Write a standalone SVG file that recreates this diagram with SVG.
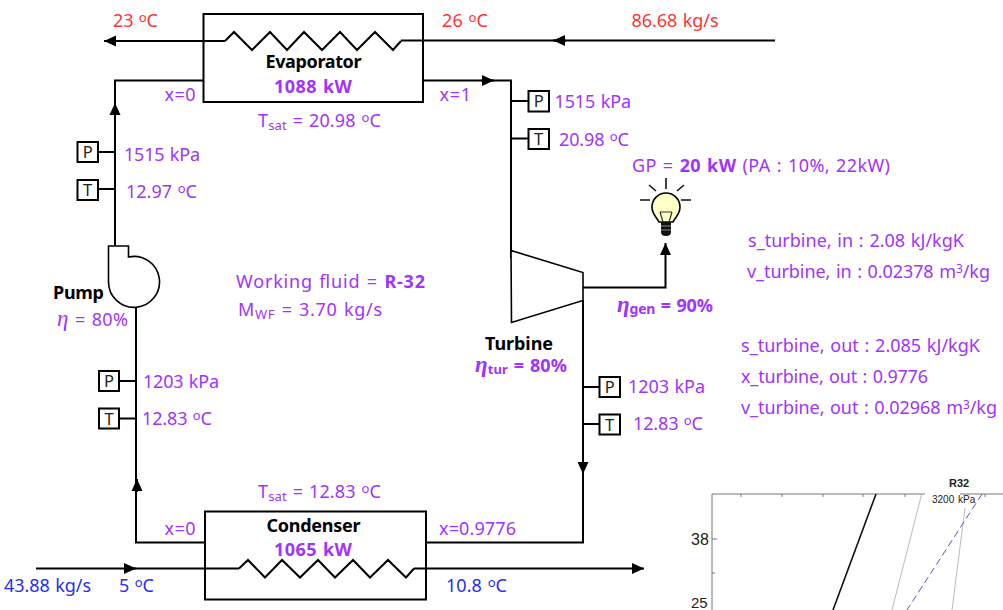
<svg xmlns="http://www.w3.org/2000/svg" width="1003" height="610" viewBox="0 0 1003 610">
<defs>
<style>
text{font-family:"Noto Sans","Open Sans","DejaVu Sans",sans-serif;font-size:18px;fill:#a033ff;word-spacing:1px}
.r{fill:#ff3333}.b{fill:#2a2aff}
.n{font-weight:700;fill:#000}.w{font-weight:700}
.c{text-anchor:middle}
.s{font-size:16.5px;fill:#222;text-anchor:middle}
.e{font-style:italic;font-family:"Liberation Serif",serif;font-size:23px}
.box{fill:#fff;stroke:#000;stroke-width:2}
.p{fill:none;stroke:#000;stroke-width:2}
.a{fill:none;stroke:#000;stroke-width:2;marker-end:url(#ah)}
.ax{fill:none;stroke:#777;stroke-width:1}
.k{font-family:"Liberation Sans",sans-serif;fill:#222}
</style>
<marker id="ah" markerUnits="userSpaceOnUse" markerWidth="12" markerHeight="12" viewBox="0 0 12 12" refX="12" refY="6" orient="auto"><path d="M0 0.5L12 6L0 11.5Z" fill="#000"/></marker>
</defs>
<g id="connectors">
<path class="p" d="M401 40.5H775"/><path class="a" d="M566 40.5H553"/>
<path class="a" d="M225 41H104"/>
<path class="p" d="M203.5 80.5H115V246"/><path class="a" d="M115 116V103"/>
<path class="p" d="M423 80.5H511V258"/><path class="a" d="M481 80.5H494"/>
<path class="p" d="M136 307V542.5H205"/><path class="a" d="M137 492V479"/>
<path class="p" d="M426 542.5H583V300"/><path class="a" d="M583 463V474"/>
<path class="p" d="M36 568.5H239"/><path class="a" d="M124 568.5H136"/>
<path class="a" d="M414 568.5H644"/>
<path class="a" d="M583 287.5H665.5V243"/>
<path class="p" d="M98 152H115M98 189H115M549 101H511M549 138.5H511M119 381H137M119 418.5H137M620 387H583M620 424H583"/>
</g>
<g id="evaporator">
<rect class="p" x="203.5" y="14" width="219.5" height="88"/>
<path class="p" d="M225 41L234 32L252 50L270 32L287 50L304 32L322 50L340 32L357 50L375 32L393 50L401 41"/>
<text class="n c" x="313.5" y="68" textLength="96">Evaporator</text>
<text class="w c" x="313" y="93" textLength="78">1088 kW</text>
</g>
<g id="condenser">
<rect class="p" x="205" y="511.5" width="221" height="88"/>
<path class="p" d="M239 568.5L248 560L265 577.5L282 560L300 577.5L318 560L335 577.5L353 560L370 577.5L388 560L406 577.5L414 568.5"/>
<text class="n c" x="313.5" y="532" textLength="94">Condenser</text>
<text class="w c" x="313" y="556" textLength="78">1065 kW</text>
</g>
<g id="pump">
<path d="M108.5 246H128.5V257A25.5 25.5 0 1 1 108.5 282Z" fill="#fff" stroke="#000" stroke-width="1.6"/>
<text class="n" x="53" y="299" textLength="51">Pump</text>
<text x="57" y="326" textLength="71"><tspan class="e">η</tspan> = 80%</text>
</g>
<g id="turbine">
<path d="M511 250.5L583 272.5V300.5L511.5 322.5Z" fill="#fff" stroke="#000" stroke-width="1.6"/>
<text class="n" x="485" y="350" textLength="68">Turbine</text>
<text class="w" x="475" y="372" textLength="92"><tspan class="e">η</tspan><tspan font-size="13" dy="2">tur</tspan><tspan dy="-2"> = 80%</tspan></text>
</g>
<g id="bulb">
<path d="M666 178V189M649 185L656 191M684 185L677 191M640 200H650M681 200H691" fill="none" stroke="#111" stroke-width="1.6"/>
<path d="M659 222C657 217 652 215 652 207A14 14 0 0 1 680 207C680 215 675 217 673 222Z" fill="#ffffc8" stroke="#000" stroke-width="1.6"/>
<path d="M660 212L663 222M672 212L669 222M660 212H672" fill="none" stroke="#333" stroke-width="1.2"/>
<path d="M661 222H671V232Q671 236 666 236Q661 236 661 232Z" fill="#111"/>
<path d="M661 226H671M661 230H671" stroke="#888" stroke-width="1"/>
</g>
<g id="sensor-p1"><rect class="box" x="77.5" y="142" width="20.5" height="20"/><text class="s" x="87.7" y="158">P</text></g>
<g id="sensor-t1"><rect class="box" x="77.5" y="180" width="20.5" height="20"/><text class="s" x="87.7" y="196">T</text></g>
<g id="sensor-p2"><rect class="box" x="528.5" y="91" width="20.5" height="20.5"/><text class="s" x="538.7" y="107">P</text></g>
<g id="sensor-t2"><rect class="box" x="528.5" y="129" width="20.5" height="20"/><text class="s" x="538.7" y="145">T</text></g>
<g id="sensor-p3"><rect class="box" x="99" y="371" width="20" height="20"/><text class="s" x="109" y="387">P</text></g>
<g id="sensor-t3"><rect class="box" x="99" y="408.5" width="20" height="20"/><text class="s" x="109" y="424.5">T</text></g>
<g id="sensor-p4"><rect class="box" x="599.5" y="377" width="20.5" height="20"/><text class="s" x="609.7" y="393">P</text></g>
<g id="sensor-t4"><rect class="box" x="599.5" y="414.5" width="20.5" height="20"/><text class="s" x="609.7" y="430.5">T</text></g>
<g id="labels">
<text class="r" x="113" y="26.5" textLength="45">23 <tspan font-size="13" dy="-5">o</tspan><tspan dy="5">C</tspan></text>
<text class="r" x="442" y="26.5" textLength="46">26 <tspan font-size="13" dy="-5">o</tspan><tspan dy="5">C</tspan></text>
<text class="r" x="631.5" y="26.5" textLength="87">86.68 kg/s</text>
<text x="164.5" y="101" textLength="31">x=0</text>
<text x="439.5" y="101" textLength="31.5">x=1</text>
<text x="258" y="127" textLength="123">T<tspan font-size="13" dy="3">sat</tspan><tspan dy="-3"> = 20.98 </tspan><tspan font-size="13" dy="-5">o</tspan><tspan dy="5">C</tspan></text>
<text x="124" y="161" textLength="76">1515 kPa</text>
<text x="126" y="198" textLength="71">12.97 <tspan font-size="13" dy="-5">o</tspan><tspan dy="5">C</tspan></text>
<text x="236" y="288" textLength="189">Working fluid = <tspan class="w">R-32</tspan></text>
<text x="238" y="316" textLength="144">M<tspan font-size="13" dy="3">WF</tspan><tspan dy="-3"> = 3.70 kg/s</tspan></text>
<text x="143" y="388" textLength="76">1203 kPa</text>
<text x="142" y="425" textLength="70">12.83 <tspan font-size="13" dy="-5">o</tspan><tspan dy="5">C</tspan></text>
<text x="258" y="498" textLength="123">T<tspan font-size="13" dy="3">sat</tspan><tspan dy="-3"> = 12.83 </tspan><tspan font-size="13" dy="-5">o</tspan><tspan dy="5">C</tspan></text>
<text x="164.5" y="535" textLength="31">x=0</text>
<text x="439" y="535" textLength="77">x=0.9776</text>
<text class="b" x="4" y="592" textLength="87">43.88 kg/s</text>
<text class="b" x="119" y="592" textLength="35">5 <tspan font-size="13" dy="-5">o</tspan><tspan dy="5">C</tspan></text>
<text class="b" x="446" y="592" textLength="61">10.8 <tspan font-size="13" dy="-5">o</tspan><tspan dy="5">C</tspan></text>
<text x="554.5" y="108" textLength="76.5">1515 kPa</text>
<text x="559" y="146" textLength="70">20.98 <tspan font-size="13" dy="-5">o</tspan><tspan dy="5">C</tspan></text>
<text x="632" y="172" textLength="258">GP = <tspan class="w">20 kW</tspan> (PA : 10%, 22kW)</text>
<text x="748" y="247" textLength="216">s_turbine, in : 2.08 kJ/kgK</text>
<text x="747" y="278" textLength="243">v_turbine, in : 0.02378 m<tspan font-size="12" dy="-5">3</tspan><tspan dy="5">/kg</tspan></text>
<text class="w" x="617" y="312" textLength="96"><tspan class="e">η</tspan><tspan font-size="14" dy="2">gen</tspan><tspan dy="-2"> = 90%</tspan></text>
<text x="628" y="393" textLength="77">1203 kPa</text>
<text x="633" y="430" textLength="70">12.83 <tspan font-size="13" dy="-5">o</tspan><tspan dy="5">C</tspan></text>
<text x="741" y="352" textLength="239">s_turbine, out : 2.085 kJ/kgK</text>
<text x="741" y="383" textLength="187">x_turbine, out : 0.9776</text>
<text x="741" y="414" textLength="256">v_turbine, out : 0.02968 m<tspan font-size="12" dy="-5">3</tspan><tspan dy="5">/kg</tspan></text>
</g>
<g id="chart">
<path class="ax" d="M712 610V494H925M960 494H1003M741 494v3M782 494v3M823 494v3M863 494v3M905 494v3M985 494v3M712 539h5M712 573h3"/>
<path d="M876 494L833 610" fill="none" stroke="#111" stroke-width="1.6"/>
<path d="M921.7 494L892 610M965 508L952 610" fill="none" stroke="#bbb" stroke-width="1"/>
<path d="M982 494L907 610" fill="none" stroke="#5a5aa8" stroke-width="1" stroke-dasharray="7 4"/>
<text class="k" x="691" y="545" font-size="16" style="font-size:16px">38</text>
<text class="k" x="691" y="608" style="font-size:15px">25</text>
<text class="k" x="949" y="487" style="font-size:11px;font-weight:700">R32</text>
<text class="k" x="932" y="503" style="font-size:10px">3200 kPa</text>
</g>
</svg>
